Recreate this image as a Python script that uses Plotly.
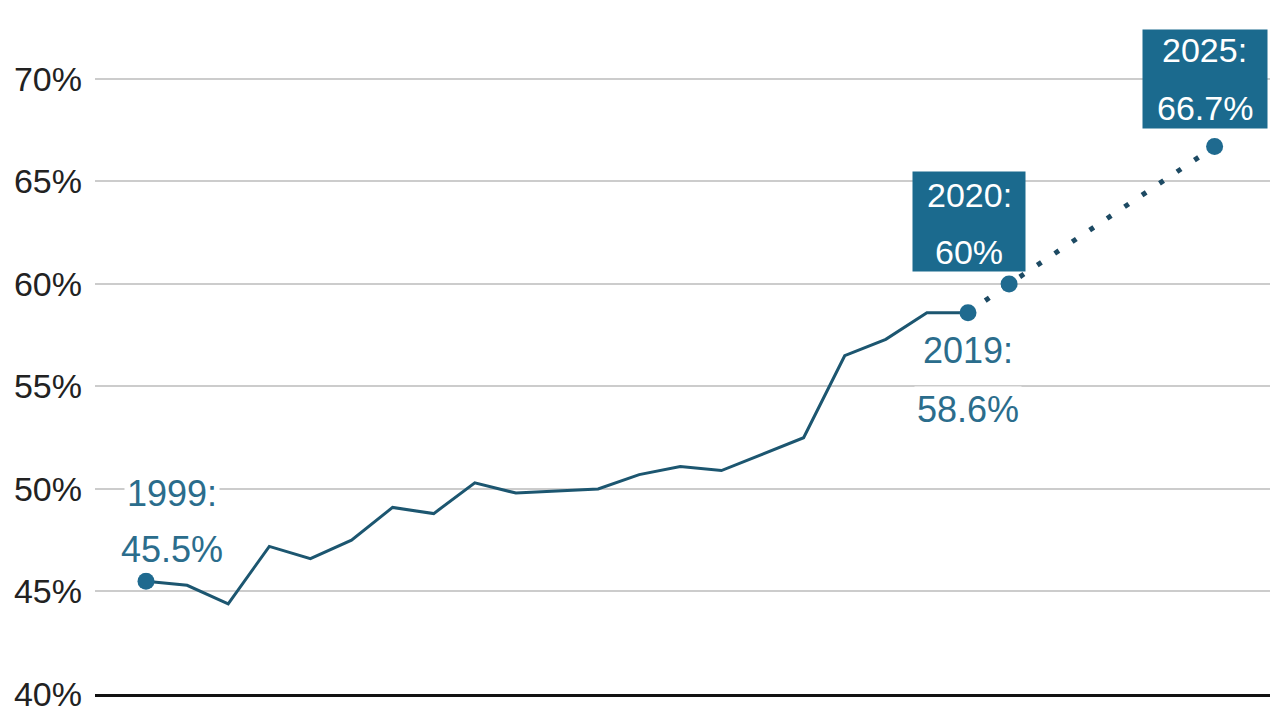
import plotly.graph_objects as go

# ---- data ----
years = list(range(1999, 2020))
share = [45.5, 45.3, 44.4, 47.2, 46.6, 47.5, 49.1, 48.8, 50.3, 49.8, 49.9,
         50.0, 50.7, 51.1, 50.9, 51.7, 52.5, 56.5, 57.3, 58.6, 58.6]
proj_years = [2019, 2020, 2025]
proj_share = [58.6, 60.0, 66.7]
marker_years = [1999, 2019, 2020, 2025]
marker_share = [45.5, 58.6, 60.0, 66.7]
y_ticks = [40, 45, 50, 55, 60, 65, 70]
y_tick_labels = ["40%", "45%", "50%", "55%", "60%", "65%", "70%"]

LINE = "#1c5670"
DOT = "#1d4a63"
MARK = "#1f6a8f"
BOX = "#1b6a8e"
LABEL = "#2b6d8c"
FONT = "Liberation Sans, Arial, sans-serif"


def fmt(v):
    return f"{v:g}%"


fig = go.Figure()
fig.add_trace(go.Scatter(x=proj_years, y=proj_share, mode="lines",
                         line=dict(color=DOT, width=5, dash="5px,16px"),
                         hoverinfo="skip"))
fig.add_trace(go.Scatter(x=years, y=share, mode="lines",
                         line=dict(color=LINE, width=3), hoverinfo="skip"))
fig.add_trace(go.Scatter(x=marker_years, y=marker_share, mode="markers",
                         marker=dict(color=MARK, size=17), hoverinfo="skip"))

ann = []
# plain labels (white background) for 1999 and 2019
plain = [(0, 26, 88, 32), (20, 0, -38, -97)]
for idx, xs, ys1, ys2 in plain:
    yr, v = years[idx], share[idx]
    for txt, ys in ((f"{yr}:", ys1), (fmt(v), ys2)):
        ann.append(dict(x=yr, y=v, xref="x", yref="y", text=txt, showarrow=False,
                        xanchor="center", yanchor="middle", xshift=xs, yshift=ys,
                        bgcolor="white", borderpad=2,
                        font=dict(family=FONT, size=36, color=LABEL)))

# boxed labels for 2020 and 2025
boxed = [(1, -40, 62, 112, 99, 89, 32), (2, -10, 68, 124, 98, 97, 39)]
for idx, xs, ys, w, h, t1, t2 in boxed:
    yr, v = proj_years[idx], proj_share[idx]
    ann.append(dict(x=yr, y=v, xref="x", yref="y", text=" ", showarrow=False,
                    xanchor="center", yanchor="middle", xshift=xs, yshift=ys,
                    width=w, height=h, bgcolor=BOX, borderpad=0))
    for txt, yy in ((f"{yr}:", t1), (fmt(v), t2)):
        ann.append(dict(x=yr, y=v, xref="x", yref="y", text=txt, showarrow=False,
                        xanchor="center", yanchor="middle", xshift=xs, yshift=yy,
                        font=dict(family=FONT, size=34, color="white")))

fig.update_layout(
    width=1279, height=720,
    margin=dict(l=95, r=9, t=0, b=26),
    paper_bgcolor="white", plot_bgcolor="white",
    showlegend=False,
    annotations=ann,
    font=dict(family=FONT),
    xaxis=dict(range=[1997.759, 2026.348], showgrid=False, zeroline=False,
               showticklabels=False, ticks="", showline=True,
               linecolor="#111111", linewidth=3),
    yaxis=dict(range=[40, 73.85], tickmode="array", tickvals=y_ticks,
               ticktext=y_tick_labels,
               showgrid=True, gridcolor="#cccccc", gridwidth=2,
               zeroline=False, ticks="", ticklabelstandoff=12,
               tickfont=dict(family=FONT, size=34, color="#222222")),
)

fig.write_html("out.html")
